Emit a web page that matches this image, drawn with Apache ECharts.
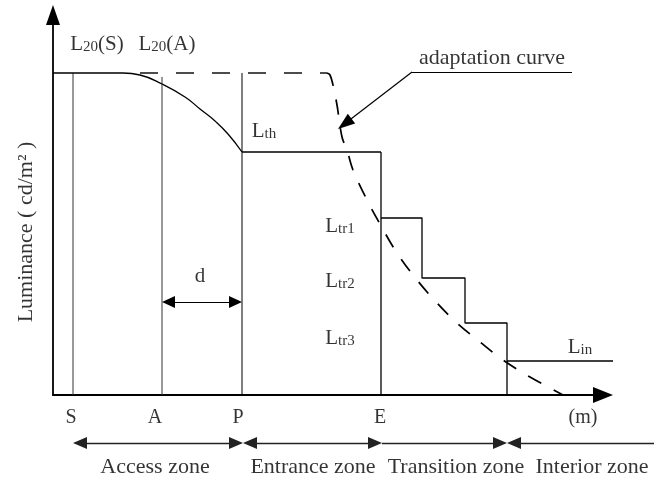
<!DOCTYPE html>
<html><head><meta charset="utf-8">
<script src="https://cdn.jsdelivr.net/npm/echarts@6/dist/echarts.min.js"></script>
<style>html,body{margin:0;padding:0;background:#fff;}#chart{width:654px;height:484px;}</style>
</head><body><div id="chart"></div>
<script>
// Schematic units (1 unit = 1 px), origin where the two axes cross
const stationNames = ['S', 'A', 'P', 'E'];
const stationX = [20, 109, 189, 328];
const stationTop = [322, 318, 322, 243];
const accessCurve = [[0,322],[70,322],[87,320],[109,311],[132,298],[147,286],[162,274],[175,261],[189,243]];
const thresholdLevel = [[189,243],[328,243]];
const transitionSteps = [[328,177],[369,177],[369,117],[412,117],[412,72],[454,72],[454,0]];
const interiorLevel = [[454,34],[560,34]];
const adaptationFlat = [[69,322],[274,322]];
const adaptationCurve = [[274,322],[277,320],[280,310],[284,290],[289,258],[294,245],[300,225],[314,195],[327,171],[344,142],[364,115],[384,92],[404,72],[427,53],[450,35],[477,18],[510,0]];
const levelLabels = [['L','20','(S)'],['L','20','(A)'],['L','th',''],['L','tr1',''],['L','tr2',''],['L','tr3',''],['L','in','']];
const levelLabelPos = [[44,352],[114,352],[211,265],[287,170],[287,115],[287,58],[527,49]];
const axisMarkLabels = ['S','A','P','E','(m)'];
const axisMarkPos = [[18,-23],[102,-23],[185,-23],[327,-23],[530,-23]];
const zoneNames = ['Access zone','Entrance zone','Transition zone','Interior zone'];
const zoneBounds = [20,190,329,454,601];
const zoneArrowY = -48;
const zoneLabelPos = [[102,-72],[260,-72],[403,-72],[539,-72]];
const dSpan = [109,189];
const dArrowY = 93;
const dLabelPos = [147,119];
const annotationText = 'adaptation curve';
const annotationPos = [439,337];
const annotationLine = [[519,323],[359,323],[285,266]];
const yTitle = 'Luminance ( cd/m² )';
const yTitlePos = [-27,163];

const serif = '"Liberation Serif","Times New Roman",serif';
const ink = '#000';

function seg(a, b, headA, headB, size) {
  // shorten ends so that the triangle tips land exactly on a / b
  const dx = b[0]-a[0], dy = b[1]-a[1], len = Math.hypot(dx,dy);
  const ux = dx/len, uy = dy/len, h = size[1]/2;
  const p = headA ? [a[0]+ux*h, a[1]+uy*h] : a.slice();
  const q = headB ? [b[0]-ux*h, b[1]-uy*h] : b.slice();
  return [
    {coord:p, symbol: headA ? 'triangle' : 'none', symbolSize: size},
    {coord:q, symbol: headB ? 'triangle' : 'none', symbolSize: size}
  ];
}

function line(data, style, extra) {
  return Object.assign({
    type:'line', xAxisIndex:0, yAxisIndex:0, data:data, symbol:'none', clip:false,
    silent:true, animation:false, z:3,
    lineStyle:Object.assign({color:ink, width:1.3}, style||{})
  }, extra||{});
}

const series = [];
stationX.forEach(function(x,i){
  series.push(line([[x,0],[x,stationTop[i]]], {width: i===3 ? 1.3 : 1, color: i<2 ? '#333' : ink}));
});
series.push(line(accessCurve, {}, {smooth:0.5}));
series.push(line(thresholdLevel));
series.push(line(transitionSteps));
series.push(line(interiorLevel, {}, {xAxisIndex:1, yAxisIndex:1}));
series.push(line(adaptationFlat, {type:[18,18], dashOffset:18, width:1.4}));
series.push(line(adaptationCurve, {type:[15,14], width:1.7}, {smooth:0.35, xAxisIndex:1, yAxisIndex:1}));

// arrows inside the plot (d and annotation)
const arrowStyle = {color:'#000', width:1.2, type:'solid'};
series.push({
  type:'line', xAxisIndex:0, yAxisIndex:0, data:[[dSpan[0], dArrowY]], symbol:'none', silent:true,
  lineStyle:{opacity:0}, itemStyle:{color:'#000'}, animation:false,
  markLine:{silent:true, animation:false, symbol:['none','none'], label:{show:false},
    lineStyle:arrowStyle, itemStyle:{color:'#000'},
    data:[
      seg([dSpan[0],dArrowY],[dSpan[1],dArrowY], true, true, [12,13]),
      seg(annotationLine[0], annotationLine[1], false, false, [10,14]),
      seg(annotationLine[1], annotationLine[2], false, true, [12,17])
    ]}
});

// zone arrows & all texts in the full-canvas grid
const zoneSegs = [
  seg([zoneBounds[0],zoneArrowY],[zoneBounds[1],zoneArrowY], true, true, [12,14]),
  seg([zoneBounds[1],zoneArrowY],[zoneBounds[2],zoneArrowY], true, true, [12,14]),
  seg([zoneBounds[2],zoneArrowY],[zoneBounds[3],zoneArrowY], false, true, [12,14]),
  seg([zoneBounds[3],zoneArrowY],[zoneBounds[4],zoneArrowY], true, false, [12,14])
];

function textSeries(points, labelOpt, extra) {
  return Object.assign({
    type:'scatter', xAxisIndex:1, yAxisIndex:1, symbolSize:0, silent:true, animation:false,
    itemStyle:{color:'#000'},
    data: points,
    label: Object.assign({show:true, position:'inside', align:'center', verticalAlign:'middle',
      color:ink, fontFamily:serif, fontSize:22}, labelOpt)
  }, extra||{});
}

series.push(textSeries(levelLabels.map(function(t,i){
  return {value:levelLabelPos[i], lab:'{m|'+t[0]+'}{s|'+t[1]+'}'+(t[2]?'{m|'+t[2]+'}':'')};
}), {
  formatter:function(p){return p.data.lab;},
  rich:{
    m:{fontSize:21, fontFamily:serif, color:ink, verticalAlign:'bottom', lineHeight:24},
    s:{fontSize:15, fontFamily:serif, color:ink, verticalAlign:'bottom', lineHeight:19}
  }
}));
series.push(textSeries(axisMarkLabels.map(function(t,i){return {value:axisMarkPos[i], name:t};}),
  {formatter:'{b}', fontSize:20}));
series.push(textSeries(zoneNames.map(function(t,i){return {value:zoneLabelPos[i], name:t};}),
  {formatter:'{b}', fontSize:22},
  {markLine:{silent:true, animation:false, symbol:['none','none'], label:{show:false},
    lineStyle:{color:'#222', width:1.3, type:'solid'}, itemStyle:{color:'#000'}, data:zoneSegs}}));
series.push(textSeries([{value:dLabelPos, name:'d'}], {formatter:'{b}', fontSize:21}));
series.push(textSeries([{value:annotationPos, name:annotationText}], {formatter:'{b}', fontSize:22}));
series.push(textSeries([{value:yTitlePos, name:yTitle}], {formatter:'{b}', fontSize:22, rotate:90}));

const hiddenAxis = {show:false, axisLine:{show:false}, axisTick:{show:false}, axisLabel:{show:false}, splitLine:{show:false}};
const option = {
  animation:false,
  backgroundColor:'#fff',
  grid:[
    {left:53, top:25, width:540, height:370, containLabel:false},
    {left:0, top:0, width:654, height:484, containLabel:false}
  ],
  xAxis:[
    {type:'value', gridIndex:0, min:0, max:540,
      axisLine:{show:true, onZero:false, symbol:['none','triangle'], symbolSize:[16,20], symbolOffset:[0,10],
        lineStyle:{color:ink, width:1.8}},
      axisTick:{show:false}, axisLabel:{show:false}, splitLine:{show:false}},
    Object.assign({type:'value', gridIndex:1, min:-53, max:601}, hiddenAxis)
  ],
  yAxis:[
    {type:'value', gridIndex:0, min:0, max:370,
      axisLine:{show:true, onZero:false, symbol:['none','triangle'], symbolSize:[14,20], symbolOffset:[0,10],
        lineStyle:{color:ink, width:1.8}},
      axisTick:{show:false}, axisLabel:{show:false}, splitLine:{show:false}},
    Object.assign({type:'value', gridIndex:1, min:-89, max:395}, hiddenAxis)
  ],
  series:series
};
const chart = echarts.init(document.getElementById('chart'));
chart.setOption(option);
</script>
</body></html>
